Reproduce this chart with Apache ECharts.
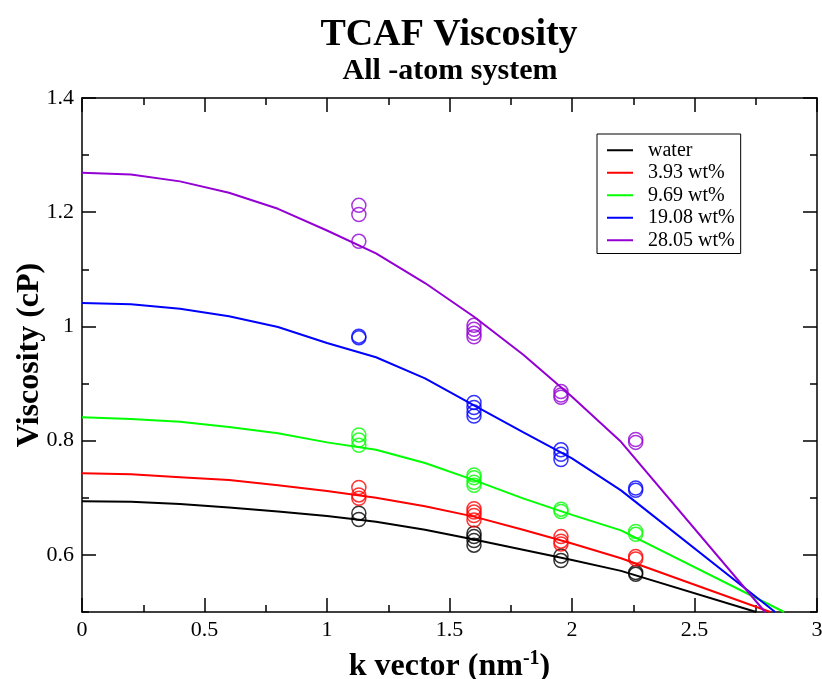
<!DOCTYPE html>
<html><head><meta charset="utf-8">
<script src="https://cdn.jsdelivr.net/npm/echarts@6/dist/echarts.min.js"></script>
<style>html,body{margin:0;padding:0;background:#fff}#c{width:822px;height:679px}</style>
</head><body><div id="c"></div>
<script>
// ---- data ----
const seriesNames = ['water', '3.93 wt%', '9.69 wt%', '19.08 wt%', '28.05 wt%'];
const colors = ['#000000', '#ff0000', '#00ff00', '#0000ff', '#9400d3'];

const kGrid = [0, 0.2, 0.4, 0.6, 0.8, 1.0, 1.2, 1.4, 1.6, 1.8, 2.0, 2.2];
const lineWater = [0.694, 0.693, 0.689, 0.683, 0.676, 0.668, 0.658, 0.644, 0.627, 0.609, 0.591, 0.572];
const line393   = [0.743, 0.741, 0.736, 0.731, 0.722, 0.712, 0.700, 0.685, 0.667, 0.644, 0.620, 0.594];
const line969   = [0.841, 0.838, 0.833, 0.824, 0.813, 0.797, 0.784, 0.761, 0.731, 0.699, 0.670, 0.643];
const line1908  = [1.041, 1.039, 1.031, 1.018, 0.999, 0.971, 0.946, 0.909, 0.862, 0.815, 0.769, 0.713];
const line2805  = [1.269, 1.266, 1.254, 1.234, 1.206, 1.168, 1.128, 1.076, 1.017, 0.951, 0.877, 0.798];
const lineEndK  = [2.752, 2.81, 2.866, 2.829, 2.788];
const lineEndV  = [0.5, 0.5, 0.5, 0.5, 0.5];

// measured points at each k
const kPoints = [1.13, 1.6, 1.955, 2.26];
const ptsWater = [[0.673, 0.662], [0.638, 0.632, 0.625, 0.617], [0.598, 0.590], [0.569, 0.566]];
const pts393   = [[0.718, 0.705, 0.699], [0.681, 0.675, 0.669, 0.661], [0.632, 0.624, 0.619], [0.597, 0.593]];
const pts969   = [[0.810, 0.801, 0.792], [0.740, 0.735, 0.727, 0.722], [0.680, 0.676], [0.641, 0.636]];
const pts1908  = [[0.983, 0.980], [0.867, 0.858, 0.850, 0.843], [0.784, 0.776, 0.767], [0.717, 0.713]];
const pts2805  = [[1.212, 1.196, 1.149], [1.002, 0.995, 0.988, 0.982], [0.886, 0.880, 0.876], [0.802, 0.797]];

const yTickMajor = [0.6, 0.8, 1.0, 1.2, 1.4];

const lines = [lineWater, line393, line969, line1908, line2805];
const pts = [ptsWater, pts393, pts969, pts1908, pts2805];

const FONT = 'Liberation Serif';
const series = [];
lines.forEach((vals, i) => {
  series.push({
    name: seriesNames[i], type: 'line', xAxisIndex: 0, yAxisIndex: 0,
    data: kGrid.map((k, j) => [k, vals[j]]).concat([[lineEndK[i], lineEndV[i]]]),
    showSymbol: false, symbol: 'none', clip: true,
    lineStyle: { color: colors[i], width: 2 }, itemStyle: { color: colors[i] },
    z: 2
  });
});
pts.forEach((groups, i) => {
  const d = [];
  groups.forEach((g, j) => g.forEach(v => d.push([kPoints[j], v])));
  series.push({
    name: seriesNames[i] + ' data', type: 'scatter', xAxisIndex: 0, yAxisIndex: 0,
    data: d, symbol: 'circle', symbolSize: 14,
    itemStyle: { color: 'rgba(0,0,0,0)', borderColor: colors[i], borderWidth: 1.5 },
    z: 3
  });
});

const axLine = { show: true, lineStyle: { color: '#000', width: 1.5 } };
const noLabel = { show: false };

const option = {
  backgroundColor: '#fff',
  animation: false,
  title: [
    { text: 'TCAF Viscosity', left: 449, top: 16, textAlign: 'center', padding: 0,
      textStyle: { fontFamily: FONT, fontWeight: 'bold', fontSize: 38, color: '#000' } },
    { text: 'All -atom system', left: 450, top: 56, textAlign: 'center', padding: 0,
      textStyle: { fontFamily: FONT, fontWeight: 'bold', fontSize: 30, color: '#000' } }
  ],
  legend: {
    orient: 'vertical', left: 597, top: 134,
    data: seriesNames,
    icon: 'rect', itemWidth: 26, itemHeight: 2, itemGap: 0,
    borderColor: '#000', borderWidth: 1, backgroundColor: '#fff',
    padding: [5, 6, 2, 10],
    textStyle: { fontFamily: FONT, fontSize: 20, color: '#000', lineHeight: 22.5, padding: [0, 0, 0, 10] }
  },
  grid: { left: 82, right: 5, top: 98, bottom: 67, containLabel: false, outerBoundsMode: 'none' },
  xAxis: [
    {
      type: 'value', position: 'bottom', min: 0, max: 3, interval: 0.5,
      axisLine: axLine,
      axisTick: { show: true, inside: true, length: 14, lineStyle: { color: '#000', width: 1.5 } },
      minorTick: { show: true, splitNumber: 2, length: 7, lineStyle: { color: '#000', width: 1.5 } },
      splitLine: { show: false },
      axisLabel: { fontFamily: FONT, fontSize: 22, color: '#000', margin: 7 },
      name: 'k vector (nm{sup|-1})', nameLocation: 'middle', nameGap: 37, nameMoveOverlap: false,
      nameTextStyle: {
        fontFamily: FONT, fontWeight: 'bold', fontSize: 32, color: '#000',
        rich: { sup: { fontFamily: FONT, fontWeight: 'bold', fontSize: 20, color: '#000', verticalAlign: 'top', padding: [0, 0, 15, 0] } }
      }
    },
    {
      type: 'value', position: 'top', min: 0, max: 3, interval: 0.5,
      axisLine: axLine,
      axisTick: { show: true, inside: true, length: 14, lineStyle: { color: '#000', width: 1.5 } },
      minorTick: { show: true, splitNumber: 2, length: 7, lineStyle: { color: '#000', width: 1.5 } },
      splitLine: { show: false }, axisLabel: noLabel
    }
  ],
  yAxis: [
    {
      type: 'value', position: 'left', min: 0.5, max: 1.4, interval: 0.1,
      axisLine: axLine,
      axisTick: { show: true, inside: true, length: 7, lineStyle: { color: '#000', width: 1.5 } },
      splitLine: { show: false },
      axisLabel: {
        fontFamily: FONT, fontSize: 22, color: '#000', margin: 8,
        formatter: v => (Math.round(v * 10) % 2 === 0 ? String(+v.toFixed(1)) : '')
      },
      name: 'Viscosity (cP)', nameLocation: 'middle', nameGap: 36, nameMoveOverlap: false,
      nameTextStyle: { fontFamily: FONT, fontWeight: 'bold', fontSize: 32, color: '#000' }
    },
    {
      type: 'value', position: 'left', min: 0.5, max: 1.4,
      axisLine: { show: false },
      axisTick: { show: true, inside: true, length: 14, customValues: yTickMajor, lineStyle: { color: '#000', width: 1.5 } },
      splitLine: { show: false }, axisLabel: noLabel
    },
    {
      type: 'value', position: 'right', min: 0.5, max: 1.4, interval: 0.1,
      axisLine: axLine,
      axisTick: { show: true, inside: true, length: 7, lineStyle: { color: '#000', width: 1.5 } },
      splitLine: { show: false }, axisLabel: noLabel
    },
    {
      type: 'value', position: 'right', min: 0.5, max: 1.4,
      axisLine: { show: false },
      axisTick: { show: true, inside: true, length: 14, customValues: yTickMajor, lineStyle: { color: '#000', width: 1.5 } },
      splitLine: { show: false }, axisLabel: noLabel
    }
  ],
  series: series
};

const chart = echarts.init(document.getElementById('c'), null, { renderer: 'canvas' });
chart.setOption(option);
</script>
</body></html>
